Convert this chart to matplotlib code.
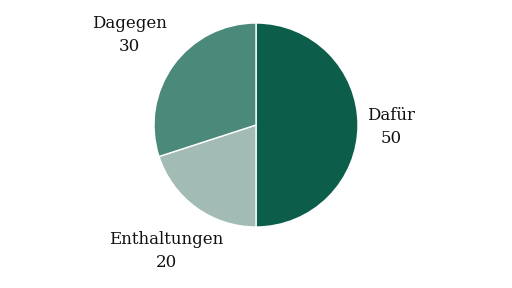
import matplotlib
matplotlib.use("Agg")
import matplotlib.pyplot as plt

labels = ["Dafür", "Enthaltungen", "Dagegen"]
values = [50, 20, 30]
colors = ["#0c5e4b", "#a2bcb5", "#4b8a7a"]

# label anchor points (pixel coords, y down)
label_pos = [(391, 127), (166, 251), (129, 35)]

fig = plt.figure(figsize=(5.12, 2.88), dpi=100)
ax = fig.add_axes([0, 0, 1, 1])
ax.set_xlim(0, 512)
ax.set_ylim(288, 0)
ax.set_aspect("equal")
ax.axis("off")

# y axis is flipped, so start at -90 and go counterclockwise in data space
# which reads as clockwise from the top on screen
ax.pie(values, colors=colors, startangle=-90, counterclock=True,
       center=(256, 125), radius=102,
       wedgeprops=dict(edgecolor="white", linewidth=1))
ax.set_xlim(0, 512)
ax.set_ylim(288, 0)

for name, val, (x, y) in zip(labels, values, label_pos):
    ax.text(x, y, f"{name}\n{val}", ha="center", va="center",
            multialignment="center", fontsize=12, family="DejaVu Serif",
            color="#111111", linespacing=1.4)

fig.savefig("out.png", dpi=100)
